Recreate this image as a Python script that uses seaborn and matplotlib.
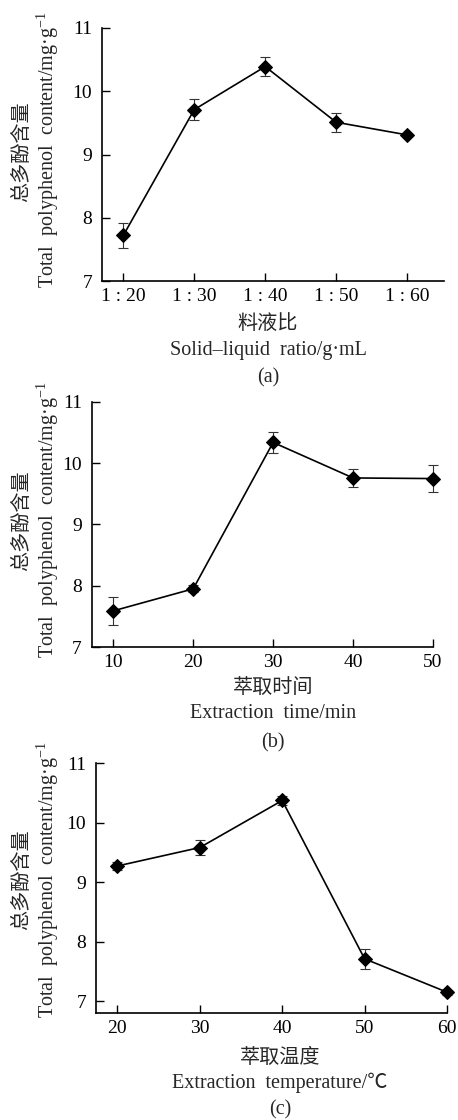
import numpy as np
import pandas as pd
import matplotlib
matplotlib.use("Agg")
import matplotlib.pyplot as plt
import seaborn as sns

# ---- data ----
ratio_labels = ["1 : 20", "1 : 30", "1 : 40", "1 : 50", "1 : 60"]
ratio_vals = [7.72, 9.71, 10.39, 9.51, 9.31]
ratio_err = [0.20, 0.16, 0.15, 0.15, 0.03]

time_x = [10, 20, 30, 40, 50]
time_vals = [7.59, 7.95, 10.34, 9.76, 9.75]
time_err = [0.23, 0.06, 0.17, 0.14, 0.22]

temp_x = [20, 30, 40, 50, 60]
temp_vals = [9.27, 9.58, 10.37, 7.71, 7.15]
temp_err = [0.06, 0.12, 0.08, 0.17, 0.04]

ylabel_cn = "总多酚含量"
ylabel_en = "Total  polyphenol  content/mg·g$^{-1}$"

sns.set_theme(style="ticks")
plt.rcParams['font.family'] = ['Liberation Serif', 'Noto Sans CJK SC', 'DejaVu Sans']
plt.rcParams['mathtext.fontset'] = 'custom'
plt.rcParams['mathtext.rm'] = 'Liberation Serif'
plt.rcParams['mathtext.it'] = 'Liberation Serif:italic'

fig = plt.figure(figsize=(4.58, 11.2), dpi=100)

CN_FS = 14.5
EN_FS = 14.5
TICK_FS = 14

def panel(rect, x, y, err, xlim, ylim, xticks, xticklabels, xl_cn, xl_en, tag,
          cx, y_cn, y_en, y_tag):
    ax = fig.add_axes(rect)
    df = pd.DataFrame({"x": x, "y": y})
    ax.errorbar(x, y, yerr=err, fmt="none", ecolor="#333333", elinewidth=0.8,
                capsize=3.5, capthick=0.8, zorder=2, clip_on=False)
    sns.lineplot(data=df, x="x", y="y", ax=ax, color="black", linewidth=1.2,
                 marker="D", markersize=7.5, markeredgecolor="black",
                 markerfacecolor="black", zorder=3, clip_on=False)
    ax.set_xlim(*xlim)
    ax.set_ylim(*ylim)
    ax.set_xticks(xticks)
    ax.set_xticklabels(xticklabels)
    ax.set_yticks([7, 8, 9, 10, 11])
    ax.set_xlabel("")
    ax.set_ylabel("")
    for s in ["top", "right"]:
        ax.spines[s].set_visible(False)
    for s in ["left", "bottom"]:
        ax.spines[s].set_linewidth(1.2)
        ax.spines[s].set_color("black")
    ax.tick_params(direction="in", length=6, width=1.0, labelsize=TICK_FS,
                   colors="black")
    ax.tick_params(axis="y", pad=7)
    ax.tick_params(axis="x", pad=5)
    fig.text(22 / 458, y_cn, ylabel_cn, rotation=90, ha="center", va="center",
             fontsize=CN_FS, family=['Noto Sans CJK SC'])
    fig.text(48 / 458, y_en, ylabel_en, rotation=90, ha="center", va="center",
             fontsize=EN_FS)
    fig.text(cx / 458, 1 - xl_cn[1] / 1120, xl_cn[0], ha="center", va="center",
             fontsize=CN_FS, family=['Noto Sans CJK SC'])
    fig.text(cx / 458, 1 - xl_en[1] / 1120, xl_en[0], ha="center", va="center",
             fontsize=EN_FS)
    fig.text(cx / 458, 1 - y_tag / 1120, tag, ha="center", va="center",
             fontsize=EN_FS)
    return ax

# (a)
panel([102 / 458, 1 - 281 / 1120, 342 / 458, 253 / 1120],
      np.arange(len(ratio_vals)), ratio_vals, ratio_err,
      (-0.3, 4.52), (7, 11), np.arange(len(ratio_labels)), ratio_labels,
      ("料液比", 323), ("Solid–liquid  ratio/g·mL", 350), "(a)", 268,
      1 - 152 / 1120, 1 - 150 / 1120, 378)

# (b)
panel([91.7 / 458, 1 - 647 / 1120, 341.3 / 458, 245 / 1120],
      time_x, time_vals, time_err,
      (7.3, 50), (7, 11), time_x, [str(v) for v in time_x],
      ("萃取时间", 687), ("Extraction  time/min", 713), "(b)", 273,
      1 - 521 / 1120, 1 - 520 / 1120, 743)

# (c)
panel([96 / 458, 1 - 1013 / 1120, 351 / 458, 250 / 1120],
      temp_x, temp_vals, temp_err,
      (17.4, 60), (6.8, 11), temp_x, [str(v) for v in temp_x],
      ("萃取温度", 1057), ("Extraction  temperature/℃", 1083), "(c)", 280,
      1 - 880 / 1120, 1 - 880 / 1120, 1110)

fig.savefig("out.png", dpi=100)
